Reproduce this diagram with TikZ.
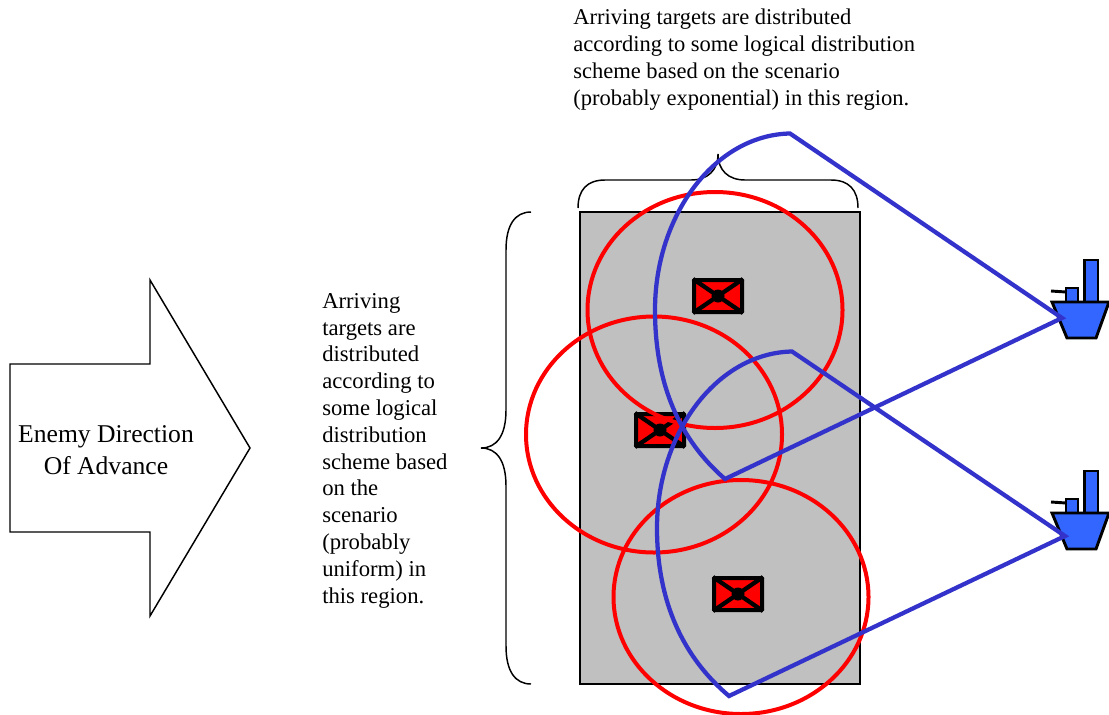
\documentclass[tikz,border=0pt]{standalone}
\usepackage{fontspec}
\setmainfont{Liberation Serif}
\definecolor{shipblue}{HTML}{3366FF}
\definecolor{beamblue}{HTML}{3333CC}
\definecolor{zonegray}{HTML}{C0C0C0}
\tikzset{
  rangering/.style={draw=red,line width=3pt},
  beam/.style={draw=beamblue,line width=3.2pt,line join=miter},
  thinline/.style={draw=black,line width=1.1pt},
  bracket/.style={draw=black,line width=1.1pt},
  shipline/.style={draw=black,line width=2.2pt,fill=shipblue,line join=miter},
  label/.style={inner sep=0pt,align=left},
  targetbox/.style={draw=black,line width=3pt,fill=red,rounded corners=0.3pt},
}
\newcommand{\targetmark}[3]{%
  \begin{scope}[shift={(#1,#2)}]
    \node[targetbox,minimum width=36pt,minimum height=24pt,inner sep=0pt] (#3) at (0,0) {};
    \draw[black,line width=3.2pt] (-25,-17) -- (25,17) (-25,17) -- (25,-17);
    \fill[black] (0,0) circle (6.5);
  \end{scope}}
\newcommand{\shipmark}[1]{%
  \begin{scope}[yshift=#1]
    \draw[shipline] (1066,302) rectangle (1078,288);
    \draw[shipline] (1084.5,302) rectangle (1098,260);
    \draw[black,line width=2.2pt] (1051,291) -- (1066,292);
    \draw[shipline] (1052,302) -- (1109,302) -- (1096,338) -- (1067,338) -- cycle;
  \end{scope}}
\begin{document}
\begin{tikzpicture}[x=0.75pt,y=-0.75pt]
\useasboundingbox (0,0) rectangle (1109,714);
% enemy arrow
\draw[thinline,line join=miter] (10,364) -- (150,364) -- (150,280) -- (250,448) -- (150,616) -- (150,532) -- (10,532) -- cycle;
\node[label,align=center,font=\fontsize{19.2pt}{23.7pt}\selectfont] (dir) at (106,450) {Enemy Direction\\Of Advance};
% captions
\node[label,anchor=north west,font=\fontsize{17pt}{20.1pt}\selectfont] (lefttext) at (322,293) {Arriving\\targets are\\distributed\\according to\\some logical\\distribution\\scheme based\\on the\\scenario\\(probably\\uniform) in\\this region.};
\node[label,anchor=north west,font=\fontsize{16.9pt}{20.25pt}\selectfont] (toptext) at (573,9) {Arriving targets are distributed\\according to some logical distribution\\scheme based on the scenario\\(probably exponential) in this region.};
% zone
\draw[draw=black,line width=1.6pt,fill=zonegray] (580,212) rectangle (860,684);
% braces
\draw[bracket] (531,212) .. controls (515,212) and (506,225) .. (506,250) -- (506,410) .. controls (506,435) and (497,448) .. (481,448) .. controls (497,448) and (506,461) .. (506,486) -- (506,646) .. controls (506,671) and (515,684) .. (531,684);
\draw[bracket] (578,208) .. controls (578,190) and (587,180) .. (605,180) -- (691,180) .. controls (708,180) and (718,170) .. (718,154) .. controls (718,170) and (728,180) .. (745,180) -- (831,180) .. controls (849,180) and (858,190) .. (858,208);
% targets
\targetmark{718}{296}{t1}
\targetmark{660}{430}{t2}
\targetmark{738}{594}{t3}
% range rings
\draw[rangering] (715,310) ellipse (127.5 and 118);
\draw[rangering] (654,434.5) ellipse (128 and 118);
\draw[rangering] (741,597) ellipse (127.5 and 117);
% ships
\shipmark{0pt}
\shipmark{-158.25pt}
% beams
\coordinate (s1) at (1062,318);
\coordinate (s2) at (1065,536);
\draw[beam] (s1) -- (790,133.5) .. controls (715,135) and (655,215) .. (655,310) .. controls (655,385) and (680,440) .. (725,479) -- cycle;
\draw[beam] (s2) -- (792,351.5) .. controls (717,353) and (657,433) .. (657,528) .. controls (657,603) and (684,658) .. (729,696) -- cycle;
\end{tikzpicture}
\end{document}
